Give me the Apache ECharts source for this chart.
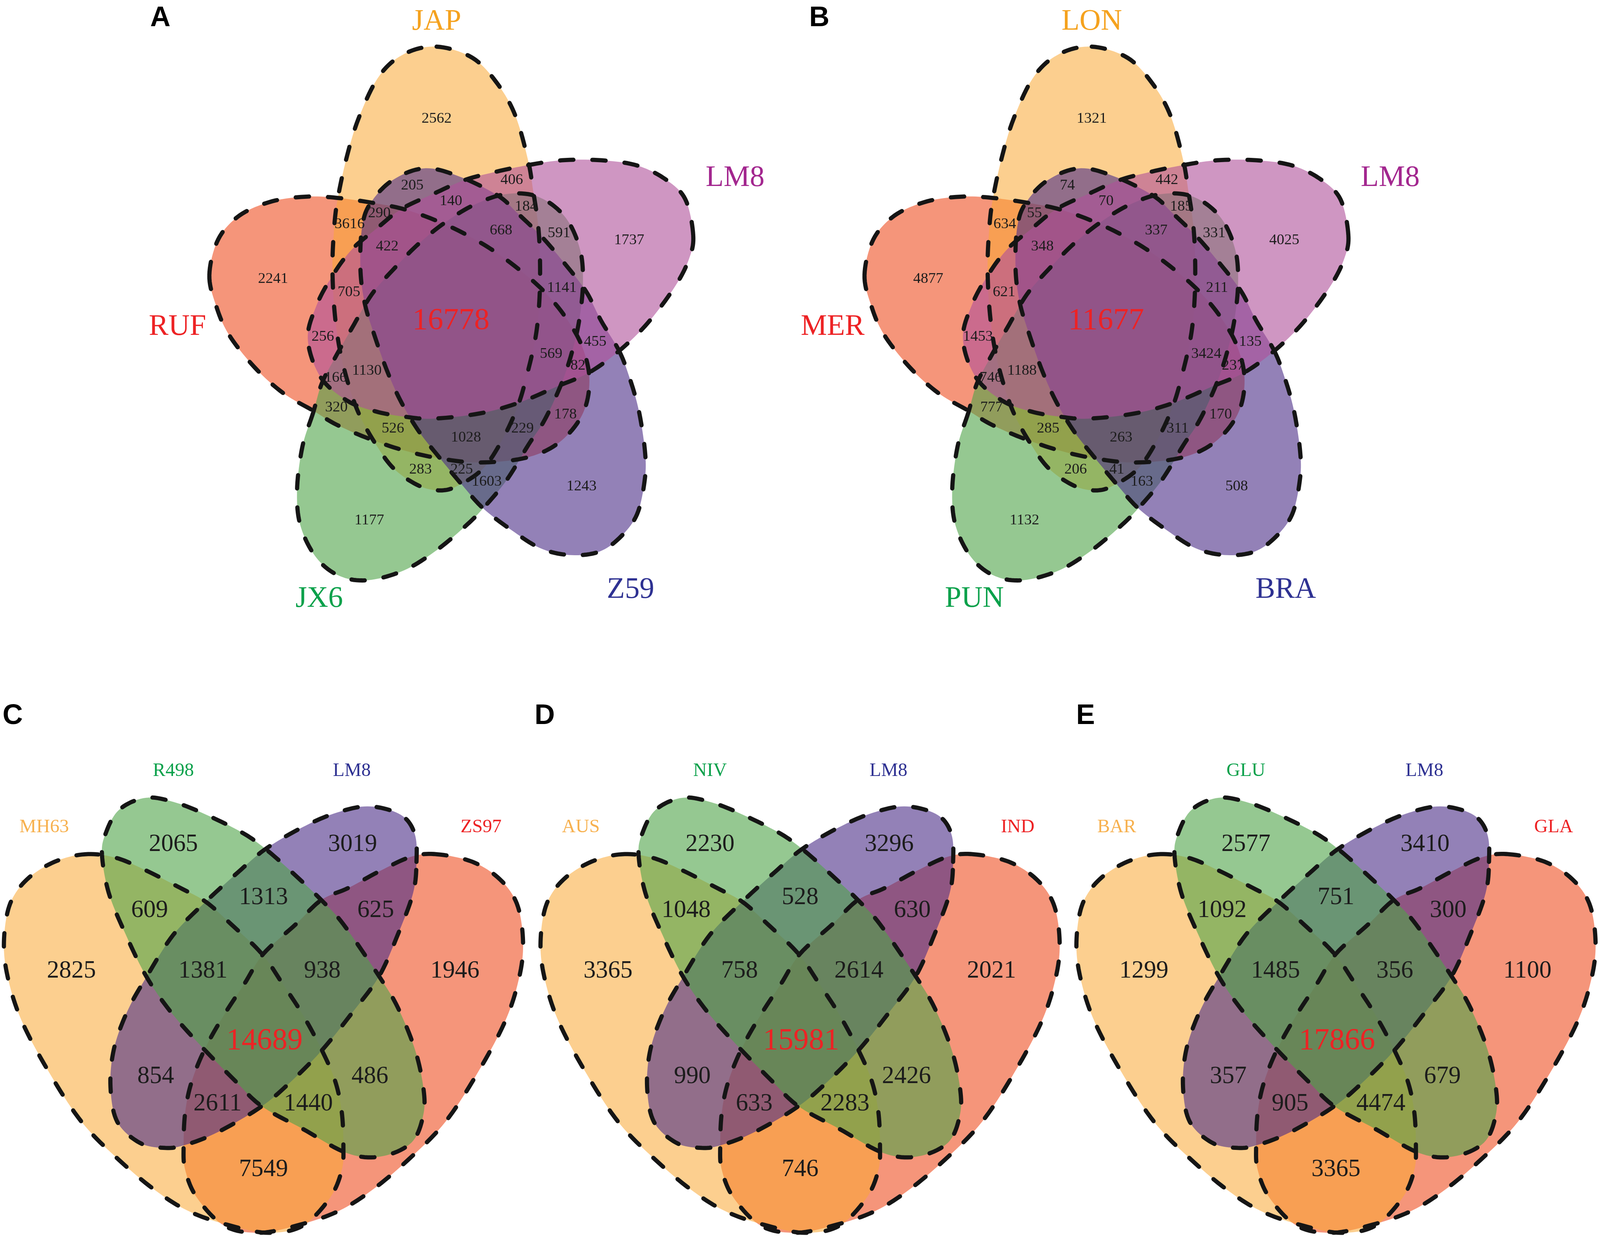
<!DOCTYPE html>
<html>
<head>
<meta charset="utf-8">
<title>Venn panels</title>
<style>
  html, body { margin: 0; padding: 0; background: #fff; overflow: hidden; }
  #chart { width: 100vw; height: 100vh; }
</style>
<script src="https://cdn.jsdelivr.net/npm/echarts@6/dist/echarts.min.js"></script>
</head>
<body>
<div id="chart"></div>
<script>
// set names
const namesA = ['JAP', 'LM8', 'RUF', 'Z59', 'JX6'];
const namesB = ['LON', 'LM8', 'MER', 'BRA', 'PUN'];
const namesC = ['MH63', 'R498', 'LM8', 'ZS97'];
const namesD = ['AUS', 'NIV', 'LM8', 'IND'];
const namesE = ['BAR', 'GLU', 'LM8', 'GLA'];

// region counts, same region order inside each group of panels
const countsA = [2562, 1737, 2241, 1177, 1243, 406, 205, 140, 184, 290, 3616, 668, 591, 422, 705, 1141, 256, 16778, 455, 569, 82, 1130, 166, 320, 178, 526, 229, 1028, 283, 225, 1603];
const countsB = [1321, 4025, 4877, 1132, 508, 442, 74, 70, 185, 55, 634, 337, 331, 348, 621, 211, 1453, 11677, 135, 3424, 237, 1188, 746, 777, 170, 285, 311, 263, 206, 41, 163];
const countsC = [2825, 2065, 3019, 1946, 609, 1313, 625, 1381, 938, 854, 486, 14689, 2611, 1440, 7549];
const countsD = [3365, 2230, 3296, 2021, 1048, 528, 630, 758, 2614, 990, 2426, 15981, 633, 2283, 746];
const countsE = [1299, 2577, 3410, 1100, 1092, 751, 300, 1485, 356, 357, 679, 17866, 905, 4474, 3365];

const W = 4562;
const H = 3171;

// layout of the 5 set diagram, traced in a 1568 unit crop of panel A
const SCALE5 = 1600 / 1568;
const ORIGIN5 = 500;
const petals5 = {
  orange: [[730,117],[830,145],[900,210],[950,290],[985,400],[1000,480],[1014,568],[1019,660],[1017,756],[1007,843],[984,935],[957,1018],[914,1102],[860,1175],[790,1218],[740,1230],[680,1218],[610,1175],[557,1110],[512,1036],[480,953],[457,865],[444,773],[439,677],[442,594],[452,507],[480,390],[515,290],[570,190],[640,135]],
  red: [[95,690],[120,600],[180,540],[270,505],[370,493],[460,497],[560,510],[640,525],[720,550],[799,582],[879,623],[955,672],[1027,728],[1089,794],[1137,870],[1157,955],[1137,1040],[1072,1110],[980,1148],[850,1160],[740,1150],[640,1130],[540,1100],[450,1065],[385,1030],[300,985],[220,920],[150,840],[115,770]],
  green: [[385,1035],[355,1120],[340,1230],[350,1320],[395,1400],[460,1445],[540,1455],[640,1430],[730,1380],[810,1320],[860,1275],[925,1205],[987,1115],[1032,1053],[1077,966],[1107,887],[1129,800],[1139,703],[1129,620],[1087,542],[1012,493],[922,487],[832,515],[752,559],[679,612],[612,673],[549,738],[494,822],[447,896],[409,962]],
  blue: [[1240,880],[1270,950],[1295,1030],[1312,1130],[1312,1200],[1290,1290],[1240,1350],[1180,1385],[1100,1392],[1020,1375],[940,1330],[860,1275],[800,1215],[740,1150],[682,1084],[632,1010],[592,931],[557,843],[529,760],[517,673],[522,568],[547,507],[610,450],[700,422],[800,445],[902,491],[954,533],[1024,594],[1087,660],[1147,730],[1190,805]],
  magenta: [[1447,590],[1425,500],[1370,450],[1290,415],[1190,402],[1080,402],[980,415],[890,432],[807,452],[724,485],[632,524],[564,572],[494,625],[440,690],[395,765],[370,850],[405,945],[480,1005],[560,1032],[640,1045],[720,1050],[850,1037],[960,1010],[1070,968],[1155,935],[1240,880],[1320,810],[1395,720],[1435,650]]
};
const slots5 = [[730,298],[1268,603],[273,700],[542,1305],[1135,1220],[940,452],[662,465],[770,505],[980,518],[570,535],[487,562],[910,578],[1072,585],[592,618],[485,733],[1080,722],[412,845],[770,805],[1173,857],[1050,888],[1125,917],[535,930],[448,948],[450,1022],[1090,1040],[608,1075],[970,1075],[812,1097],[685,1178],[800,1178],[870,1208]];
const BIG_SLOT5 = 17;
const nameSlots5 = [[730,55],[1564,447],[6,820],[1272,1480],[402,1503]];
const nameColors5 = ['#F5A21E', '#A3278F', '#ED2224', '#2E3192', '#0BA14B'];
const PANEL_B_SHIFT = 1868;

// layout of the 4 set diagram, traced in a crop of panel C
const SCALE4X = 1520 / 1568;
const SCALE4Y = 1391 / 1568;
const ORIGIN4Y = 1780;
const petals4 = {
  orange: [[250,458],[340,468],[430,505],[530,555],[605,595],[680,660],[770,745],[830,830],[890,920],[945,1020],[985,1110],[1005,1200],[1010,1300],[1005,1370],[970,1450],[890,1530],[790,1550],[680,1530],[560,1490],[460,1430],[350,1340],[240,1230],[140,1080],[60,930],[20,800],[12,700],[30,600],[80,530],[160,480]],
  red: [[1285,458],[1210,465],[1120,505],[1025,555],[945,590],[870,660],[775,745],[720,830],[660,920],[605,1015],[565,1110],[545,1200],[540,1300],[545,1370],[580,1450],[660,1530],[760,1550],[870,1530],[990,1490],[1090,1430],[1200,1340],[1310,1230],[1410,1080],[1490,930],[1530,800],[1538,700],[1520,600],[1470,530],[1390,480]],
  blue: [[1225,480],[1220,400],[1180,345],[1090,320],[1000,335],[900,375],[785,440],[700,510],[605,595],[510,690],[432,810],[375,910],[335,1020],[325,1130],[345,1230],[410,1290],[480,1305],[540,1298],[640,1260],[770,1185],[860,1110],[950,1020],[1040,910],[1115,810],[1170,690],[1215,570]],
  green: [[310,400],[350,330],[430,295],[520,310],[620,350],[720,400],[790,450],[870,520],[945,590],[1010,660],[1115,810],[1170,900],[1220,1020],[1245,1130],[1245,1210],[1210,1290],[1120,1330],[1020,1320],[890,1250],[770,1185],[690,1110],[590,1010],[500,910],[430,810],[370,690],[320,570],[300,460]]
};
const slots4 = [[210,795],[510,430],[1037,430],[1338,795],[440,620],[775,583],[1105,620],[597,795],[948,795],[458,1100],[1088,1100],[778,997],[640,1178],[907,1178],[775,1368]];
const BIG_SLOT4 = 11;
const nameSlots4 = [[130,380],[510,218],[1035,218],[1415,380]];
const nameColors4 = ['#F7B14F', '#0BA14B', '#2E3192', '#ED2224'];
const PANEL_D_SHIFT = 1530;
const PANEL_E_SHIFT = 3058;

const fills = {
  orange: 'rgba(250,168,51,0.55)',
  red: 'rgba(238,78,33,0.6)',
  green: 'rgba(78,163,72,0.6)',
  blue: 'rgba(75,45,135,0.6)',
  magenta: 'rgba(175,80,153,0.6)'
};
const order5 = ['red', 'orange', 'green', 'blue', 'magenta'];
const order4 = ['red', 'orange', 'blue', 'green'];

const to5 = (p, shift) => [ORIGIN5 + shift + p[0] * SCALE5, p[1] * SCALE5];
const to4 = (p, shift) => [shift + p[0] * SCALE4X, ORIGIN4Y + p[1] * SCALE4Y];

// closed Catmull-Rom through the traced points
function smoothClosed(points) {
  const out = [];
  const n = points.length;
  for (let i = 0; i < n; i++) {
    const p0 = points[(i - 1 + n) % n];
    const p1 = points[i];
    const p2 = points[(i + 1) % n];
    const p3 = points[(i + 2) % n];
    for (let s = 0; s < 10; s++) {
      const t = s / 10;
      const t2 = t * t;
      const t3 = t2 * t;
      out.push([0, 1].map(k => 0.5 * (2 * p1[k] + (p2[k] - p0[k]) * t +
        (2 * p0[k] - 5 * p1[k] + 4 * p2[k] - p3[k]) * t2 +
        (3 * p1[k] - p0[k] - 3 * p2[k] + p3[k]) * t3)));
    }
  }
  return out;
}

// every petal of every panel, in drawing order
const petalList = [];
function addPetals(petals, order, convert, shift) {
  order.forEach(color => {
    petalList.push({ color, points: smoothClosed(petals[color].map(p => convert(p, shift))) });
  });
}
addPetals(petals5, order5, to5, 0);
addPetals(petals5, order5, to5, PANEL_B_SHIFT);
addPetals(petals4, order4, to4, 0);
addPetals(petals4, order4, to4, PANEL_D_SHIFT);
addPetals(petals4, order4, to4, PANEL_E_SHIFT);

const chart = echarts.init(document.getElementById('chart'), null, { renderer: 'canvas' });
// window may be narrower than the figure, sizes follow its width
const K = chart.getWidth() / W;

function renderPetal(mode) {
  return function (params, api) {
    const petal = petalList[params.dataIndex];
    const pts = petal.points.map(p => api.coord(p));
    if (mode === 'fill') {
      return { type: 'polygon', shape: { points: pts }, style: { fill: fills[petal.color], stroke: null }, silent: true };
    }
    return {
      type: 'polygon',
      shape: { points: pts },
      style: { fill: null, stroke: '#151515', lineWidth: 12 * K, lineDash: [38 * K, 54 * K], lineCap: 'round' },
      silent: true
    };
  };
}

// text marks
const SERIF = '"Liberation Serif", "Times New Roman", serif';
function textItem(pos, text, size, color) {
  return {
    value: pos,
    label: { formatter: String(text), fontSize: size * K, color: color, fontFamily: SERIF }
  };
}
const textItems = [];
function addCounts(counts, slots, bigSlot, convert, shift, size, bigSize) {
  counts.forEach((v, i) => {
    const big = i === bigSlot;
    textItems.push(textItem(convert(slots[i], shift), v, big ? bigSize : size, big ? '#ED2224' : '#1c1c1c'));
  });
}
function addNames(names, slots, colors, convert, shift, size) {
  names.forEach((v, i) => {
    textItems.push(textItem(convert(slots[i], shift), v, size, colors[i]));
  });
}
addCounts(countsA, slots5, BIG_SLOT5, to5, 0, 43, 88);
addCounts(countsB, slots5, BIG_SLOT5, to5, PANEL_B_SHIFT, 43, 88);
addNames(namesA, nameSlots5, nameColors5, to5, 0, 84);
addNames(namesB, nameSlots5, nameColors5, to5, PANEL_B_SHIFT, 84);
addCounts(countsC, slots4, BIG_SLOT4, to4, 0, 70, 87);
addCounts(countsD, slots4, BIG_SLOT4, to4, PANEL_D_SHIFT, 70, 87);
addCounts(countsE, slots4, BIG_SLOT4, to4, PANEL_E_SHIFT, 70, 87);
addNames(namesC, nameSlots4, nameColors4, to4, 0, 54);
addNames(namesD, nameSlots4, nameColors4, to4, PANEL_D_SHIFT, 54);
addNames(namesE, nameSlots4, nameColors4, to4, PANEL_E_SHIFT, 54);

// panel letters
const panelLetters = ['A', 'B', 'C', 'D', 'E'];
const letterSpots = [[457, 47], [2336, 47], [36, 1833], [1553, 1833], [3095, 1833]];
const letterItems = panelLetters.map((l, i) => ({
  value: letterSpots[i],
  label: { formatter: l, fontSize: 80 * K, fontWeight: 'bold', color: '#000', fontFamily: '"Liberation Sans", Arial, sans-serif' }
}));

const textSeries = (data) => ({
  type: 'scatter',
  data: data,
  symbolSize: 1,
  itemStyle: { color: 'transparent', opacity: 1 },
  label: { show: true, position: 'inside', align: 'center', verticalAlign: 'middle' },
  silent: true,
  z: 5
});
chart.setOption({
  animation: false,
  backgroundColor: '#fff',
  tooltip: { show: false },
  grid: { left: 0, right: 0, top: 0, bottom: 0 },
  xAxis: { type: 'value', min: 0, max: W, show: false },
  yAxis: { type: 'value', min: 0, max: H, inverse: true, show: false },
  series: [
    { type: 'custom', data: petalList.map((p, i) => i), renderItem: renderPetal('fill'), clip: false, silent: true, z: 2 },
    { type: 'custom', data: petalList.map((p, i) => i), renderItem: renderPetal('line'), clip: false, silent: true, z: 3 },
    textSeries(textItems),
    textSeries(letterItems)
  ]
});
</script>
</body>
</html>
